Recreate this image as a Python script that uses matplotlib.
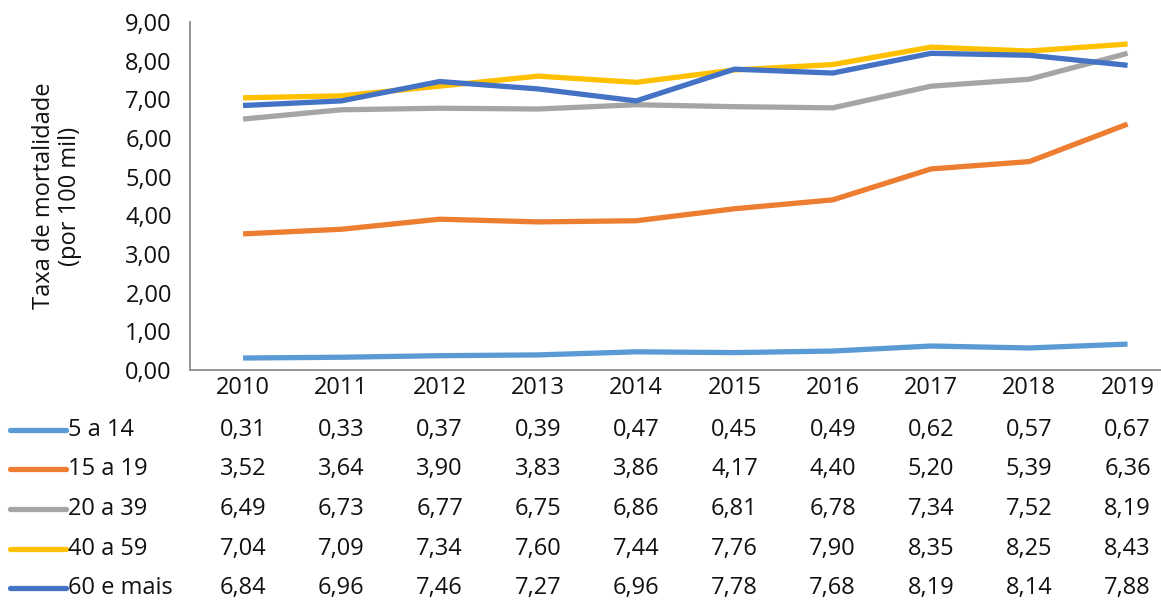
import matplotlib
matplotlib.use("Agg")
import matplotlib.pyplot as plt
from matplotlib.transforms import blended_transform_factory
from matplotlib.lines import Line2D

plt.rcParams['font.family'] = ['Open Sans', 'DejaVu Sans']

years = ["2010", "2011", "2012", "2013", "2014", "2015", "2016", "2017", "2018", "2019"]
series_names = ["5 a 14", "15 a 19", "20 a 39", "40 a 59", "60 e mais"]
s_5_14 = [0.31, 0.33, 0.37, 0.39, 0.47, 0.45, 0.49, 0.62, 0.57, 0.67]
s_15_19 = [3.52, 3.64, 3.90, 3.83, 3.86, 4.17, 4.40, 5.20, 5.39, 6.36]
s_20_39 = [6.49, 6.73, 6.77, 6.75, 6.86, 6.81, 6.78, 7.34, 7.52, 8.19]
s_40_59 = [7.04, 7.09, 7.34, 7.60, 7.44, 7.76, 7.90, 8.35, 8.25, 8.43]
s_60 = [6.84, 6.96, 7.46, 7.27, 6.96, 7.78, 7.68, 8.19, 8.14, 7.88]
series = [s_5_14, s_15_19, s_20_39, s_40_59, s_60]
colors = ["#5B9BD5", "#ED7D31", "#A5A5A5", "#FFC000", "#4472C4"]

W, H = 1161, 602
fs = 17
txt = "#111111"
fig = plt.figure(figsize=(W / 100, H / 100), dpi=100)
ax = fig.add_axes([190 / W, 1 - 370 / H, (W - 190) / W, 348 / H])

x = list(range(len(years)))
for vals, c in zip(series, colors):
    ax.plot(x, vals, color=c, lw=3.8, solid_capstyle='butt', solid_joinstyle='round')

ax.set_xlim(-0.54, 9.34)
ax.set_ylim(0, 9)
ax.set_yticks(range(10))
ax.set_yticklabels([f"{v},00" for v in range(10)], fontsize=fs, color=txt)
ax.set_xticks(x)
ax.set_xticklabels(years, fontsize=fs, color=txt)
ax.tick_params(axis='both', length=0)
ax.tick_params(axis='y', pad=13)
ax.tick_params(axis='x', pad=4)
for s in ["top", "right"]:
    ax.spines[s].set_visible(False)
for s in ["left", "bottom"]:
    ax.spines[s].set_color("#8c8c8c")
    ax.spines[s].set_linewidth(1.3)

fig.text(57 / W, 1 - 196 / H, "Taxa de mortalidade\n(por 100 mil)", rotation=90,
         ha='center', va='center', fontsize=fs, color=txt, linespacing=1.1)

trans = blended_transform_factory(ax.transData, fig.transFigure)
row_y = [430, 469, 509, 549, 588]
for name, vals, c, ry in zip(series_names, series, colors, row_y):
    yf = 1 - ry / H
    fig.add_artist(Line2D([10 / W, 66 / W], [yf, yf], color=c, lw=3.8,
                          transform=fig.transFigure, solid_capstyle='round'))
    fig.text(68 / W, yf, name, ha='left', va='center', fontsize=fs, color=txt)
    for i, v in enumerate(vals):
        ax.text(i, yf, f"{v:.2f}".replace('.', ','), transform=trans,
                ha='center', va='center', fontsize=fs, color=txt)

fig.savefig("out.png", dpi=100)
